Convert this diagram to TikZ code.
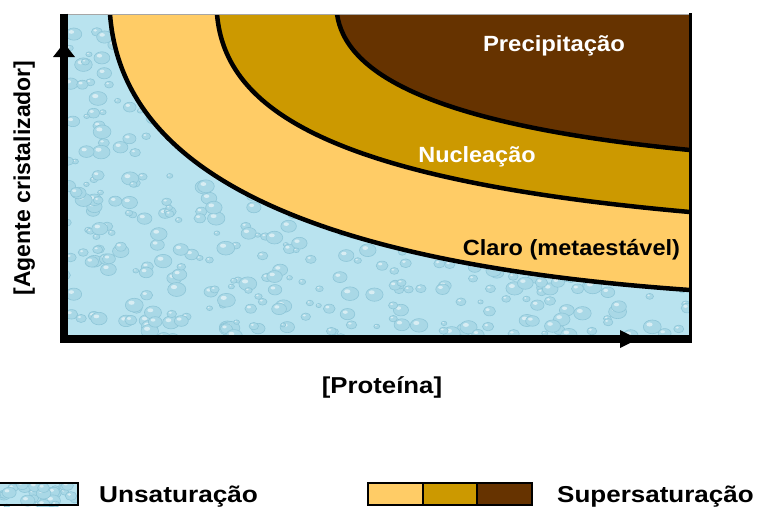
\documentclass[tikz,border=0pt]{standalone}
\usepackage{fontspec}
\setmainfont{Liberation Sans}
\usepackage{graphicx}
\definecolor{lightor}{HTML}{FFCC66}
\definecolor{midor}{HTML}{CC9900}
\definecolor{darkbr}{HTML}{663300}
\definecolor{water}{HTML}{B9E3EF}
\definecolor{dropf}{HTML}{A9D8E6}
\definecolor{dropd}{HTML}{8EC6D8}
\tikzset{
  lbl/.style={inner sep=0pt, font=\bfseries},
  boundary/.style={line width=4.5pt, black, line join=round},
  axisline/.style={line width=7.5pt, black},
  legbox/.style={draw=black, line width=1.8pt},
  droplet/.style={draw=dropd, line width=0.6pt, fill=dropf},
  shine/.style={fill=white, fill opacity=0.55},
}
\newcommand{\curveA}{(109,4) -- (110,14) .. controls (120,150) and (260,260) .. (690,290) -- (700,290.5)}
\newcommand{\curveB}{(216,4) -- (217,14) .. controls (225,110) and (330,180) .. (690,212) -- (700,212.5)}
\newcommand{\curveC}{(335,4) -- (337,14) .. controls (345,70) and (422,124) .. (690,150) -- (700,150.5)}
\begin{document}
\begin{tikzpicture}[x=1pt, y=-1pt]
\useasboundingbox (0,0) rectangle (757,507);
% plot area
\begin{scope}
  \clip (64,14) rectangle (690,339);
  \fill[water] (64,14) rectangle (690,339);
  \pgfmathsetseed{12}
  \foreach \i in {1,...,650}{
    \pgfmathsetmacro\dx{64+626*rnd}
    \pgfmathsetmacro\dy{14+325*rnd}
    \pgfmathsetmacro\dr{2+5*rnd}
    \draw[droplet] (\dx,\dy) ellipse[x radius=1.3*\dr pt, y radius=\dr pt];
    \fill[shine] (\dx-0.4*\dr,\dy-0.35*\dr) ellipse[x radius=0.45*\dr pt, y radius=0.3*\dr pt];
  }
  \fill[lightor] \curveA -- (700,0) -- cycle;
  \fill[midor] \curveB -- (700,0) -- cycle;
  \fill[darkbr] \curveC -- (700,0) -- cycle;
  \draw[boundary] \curveA;
  \draw[boundary] \curveB;
  \draw[boundary] \curveC;
\end{scope}
% frame
\draw[gray!70, line width=0.8pt] (64,14) -- (690,14);
\draw[black, line width=3pt] (690,13) -- (690,339);
% axes
\draw[axisline] (64,13.5) -- (64,343);
\draw[axisline] (60.25,339) -- (692,339);
\fill[black] (53,57) -- (64,43) -- (75,57) -- cycle;
\fill[black] (620,330) -- (638,339) -- (620,348) -- cycle;
% region labels
\node[lbl, text=white, anchor=base] (prec) at (554,51) {\scalebox{1.085}[1]{\fontsize{22}{26}\selectfont Precipitação}};
\node[lbl, text=white, anchor=base] (nucl) at (477,162) {\scalebox{1.065}[1]{\fontsize{22}{26}\selectfont Nucleação}};
\node[lbl, text=black, anchor=base] (claro) at (571.5,255) {\scalebox{1.07}[1]{\fontsize{22}{26}\selectfont Claro (metaestável)}};
% axis labels
\node[lbl, anchor=base] (prot) at (382,393) {\scalebox{1.12}[1]{\fontsize{23}{27}\selectfont [Proteína]}};
\node[lbl, anchor=base, rotate=90] (agente) at (30,178) {\fontsize{23}{27}\selectfont [Agente cristalizador]};
% legend
\begin{scope}
  \clip (-1,483) rectangle (78,506);
  \fill[water] (-1,483) rectangle (78,506);
  \pgfmathsetseed{5}
  \foreach \i in {1,...,30}{
    \pgfmathsetmacro\dx{78*rnd}
    \pgfmathsetmacro\dy{483+23*rnd}
    \pgfmathsetmacro\dr{2+4*rnd}
    \draw[droplet] (\dx,\dy) ellipse[x radius=1.3*\dr pt, y radius=\dr pt];
    \fill[shine] (\dx-0.4*\dr,\dy-0.35*\dr) ellipse[x radius=0.45*\dr pt, y radius=0.3*\dr pt];
  }
\end{scope}
\draw[legbox] (-2,483) rectangle (78,505);
\fill[lightor] (368,483) rectangle (423,505);
\fill[midor] (423,483) rectangle (477,505);
\fill[darkbr] (477,483) rectangle (532,505);
\draw[legbox] (368,483) rectangle (532,505);
\draw[black, line width=1.8pt] (423,483) -- (423,505) (477,483) -- (477,505);
\node[lbl, anchor=base west] (unsat) at (99,502) {\scalebox{1.14}[1]{\fontsize{23}{27}\selectfont Unsaturação}};
\node[lbl, anchor=base west] (super) at (557,502) {\scalebox{1.13}[1]{\fontsize{23}{27}\selectfont Supersaturação}};
\end{tikzpicture}
\end{document}
